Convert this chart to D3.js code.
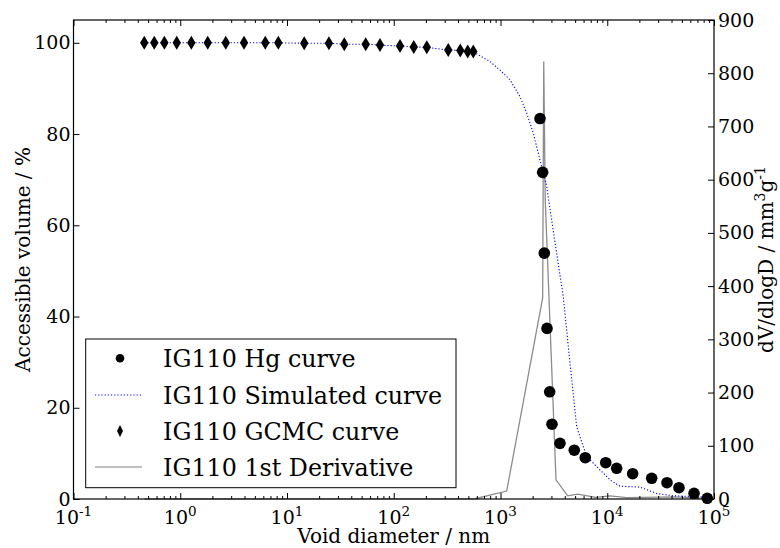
<!DOCTYPE html>
<html>
<head>
<meta charset="utf-8">
<script src="https://cdn.jsdelivr.net/npm/d3@7"></script>
<style>
  html, body { margin: 0; padding: 0; background: #fff; }
  svg text { font-family: "DejaVu Serif", serif; fill: #000; }
</style>
</head>
<body>
<svg id="chart" width="780" height="548"></svg>
<script>
// ---- data ----
const gcmcD = [0.460,0.571,0.710,0.927,1.27,1.81,2.67,3.96,6.26,8.29,14.5,24.7,34.4,54.6,74.3,114.5,154,204,324,420,493,556];
const gcmcV = [100,100,100,100,100,100,100,100,100,100,99.9,99.9,99.7,99.7,99.5,99.3,99.1,99.0,98.4,98.3,98.1,98.1];

const simD = [0.460,0.571,0.710,0.927,1.27,1.81,2.67,3.96,6.26,8.29,14.5,24.7,34.4,54.6,74.3,114.5,154,204,324,420,493,556,
              798,989,1227,1523,1759,2028,2344,2709,3125,3875,4477,5175,6425,7965,10620,13150,20270,29040,41590,73960,91830];
const simV = [100,100,100,100,100,100,100,100,100,100,99.9,99.9,99.7,99.7,99.5,99.3,99.1,99.0,98.4,98.3,98.1,98.0,
              95.9,94.0,91.9,88.2,84.6,80.2,74.3,68.5,58.7,44.3,29.8,15.8,9.3,7.1,4.2,2.8,2.6,1.2,0.7,0.5,0.15];

const hgD = [2344,2483,2572,2727,2890,3035,3607,4911,6223,9680,12250,17300,26070,36270,46990,65010,86500];
const hgV = [83.4,71.6,53.9,37.4,23.5,16.4,12.2,10.7,9.05,7.96,6.73,5.55,4.54,3.57,2.48,1.25,0.15];

const derivD = [0.460,577,1143,2483,2541,2624,3311,4260,5284,7792,10620,15210,41590,85480];
const derivV = [0,0.5,15,378,822,562,36,6,9,3,6,2.5,4,1];

const xMajor = [-1,0,1,2,3,4,5];
const yLeftTicks = [0,20,40,60,80,100];
const yRightTicks = [0,100,200,300,400,500,600,700,800,900];

const legendLabels = ["IG110 Hg curve","IG110 Simulated curve","IG110 GCMC curve","IG110 1st Derivative"];

// ---- layout ----
const L = 73.5, R = 714, T = 20, B = 499;
const svg = d3.select("#chart");

const x = d3.scaleLog().domain([0.1, 1e5]).range([L, R]);
const yL = d3.scaleLinear().domain([0, 105]).range([B, T]);
const yR = d3.scaleLinear().domain([0, 900]).range([B, T]);

const plot = svg.append("g");

// derivative line (grey, right axis)
plot.append("path")
  .datum(derivD.map((d,i)=>[d, derivV[i]]))
  .attr("fill","none").attr("stroke","#8c8c8c").attr("stroke-width",1.3)
  .attr("d", d3.line().x(d=>x(d[0])).y(d=>yR(d[1])));

// simulated line (blue dotted)
plot.append("path")
  .datum(simD.map((d,i)=>[d, simV[i]]))
  .attr("fill","none").attr("stroke","#0000ff").attr("stroke-width",1.1)
  .attr("stroke-dasharray","1.2,2")
  .attr("d", d3.line().x(d=>x(d[0])).y(d=>yL(d[1])));

// Hg circles
plot.selectAll("circle.hg").data(hgD.map((d,i)=>[d,hgV[i]])).enter()
  .append("circle").attr("class","hg")
  .attr("cx", d=>x(d[0])).attr("cy", d=>yL(d[1])).attr("r", 5.8).attr("fill","#000");

// GCMC thin diamonds
const dia = (w,h)=>`M0,${-h}L${w},0L0,${h}L${-w},0Z`;
plot.selectAll("path.gc").data(gcmcD.map((d,i)=>[d,gcmcV[i]])).enter()
  .append("path").attr("class","gc")
  .attr("d", dia(4.2,7))
  .attr("transform", d=>`translate(${x(d[0])},${yL(d[1])})`)
  .attr("fill","#000");

// ---- axes ----
const minors = [];
for (let k=-1;k<5;k++) for (let m=2;m<=9;m++) minors.push(m*Math.pow(10,k));
const majors = xMajor.map(k=>Math.pow(10,k));

const axG = svg.append("g");
axG.append("g").attr("transform",`translate(0,${B})`)
  .call(d3.axisBottom(x).tickValues(majors).tickSize(-6).tickFormat(""));
axG.append("g").attr("transform",`translate(0,${B})`)
  .call(d3.axisBottom(x).tickValues(minors).tickSize(-3).tickFormat(""));
axG.append("g").attr("transform",`translate(0,${T})`)
  .call(d3.axisTop(x).tickValues(majors).tickSize(-6).tickFormat(""));
axG.append("g").attr("transform",`translate(0,${T})`)
  .call(d3.axisTop(x).tickValues(minors).tickSize(-3).tickFormat(""));
axG.append("g").attr("transform",`translate(${L},0)`)
  .call(d3.axisLeft(yL).tickValues(yLeftTicks).tickSize(-6).tickPadding(3).tickFormat(d3.format("d")))
  .selectAll("text").attr("font-size",19).attr("font-family","DejaVu Serif");
axG.append("g").attr("transform",`translate(${R},0)`)
  .call(d3.axisRight(yR).tickValues(yRightTicks).tickSize(-6).tickPadding(4).tickFormat(d3.format("d")))
  .selectAll("text").attr("font-size",19).attr("font-family","DejaVu Serif");
axG.selectAll(".domain").remove();
axG.selectAll("line").attr("stroke","#000").attr("stroke-width",1);

// frame
svg.append("rect").attr("x",L).attr("y",T).attr("width",R-L).attr("height",B-T)
  .attr("fill","none").attr("stroke","#000").attr("stroke-width",1.2);

// x tick labels with superscripts
xMajor.forEach(k=>{
  const t = svg.append("text").attr("x", x(Math.pow(10,k))).attr("y", 524)
    .attr("text-anchor","middle").attr("font-size",19);
  t.append("tspan").text("10");
  t.append("tspan").attr("dy",-8).attr("font-size",13.5).text(k<0 ? "-" + (-k) : String(k));
});

// axis titles
svg.append("text").attr("x",(L+R)/2).attr("y",543).attr("text-anchor","middle")
  .attr("font-size",20).text("Void diameter / nm");
svg.append("text").attr("transform",`translate(30,${(T+B)/2}) rotate(-90)`)
  .attr("text-anchor","middle").attr("font-size",20).text("Accessible volume / %");
const rt = svg.append("text").attr("transform",`translate(773,${(T+B)/2}) rotate(-90)`)
  .attr("text-anchor","middle").attr("font-size",20);
rt.append("tspan").text("dV/dlogD / mm");
rt.append("tspan").attr("dy",-8).attr("font-size",14).text("3");
rt.append("tspan").attr("dy",8).text("g");
rt.append("tspan").attr("dy",-8).attr("font-size",14).text("-1");

// ---- legend ----
const lg = svg.append("g");
lg.append("rect").attr("x",85.7).attr("y",339).attr("width",370.3).attr("height",148.7)
  .attr("fill","#fff").attr("stroke","#000").attr("stroke-width",1);
const rows = [358.3, 395, 431, 467];
lg.append("circle").attr("cx",120).attr("cy",rows[0]).attr("r",4.3).attr("fill","#000");
lg.append("line").attr("x1",95).attr("x2",142).attr("y1",rows[1]).attr("y2",rows[1])
  .attr("stroke","#0000ff").attr("stroke-width",1.1).attr("stroke-dasharray","1.2,2");
lg.append("path").attr("d",dia(3,6)).attr("transform",`translate(120,${rows[2]})`).attr("fill","#000");
lg.append("line").attr("x1",95).attr("x2",142).attr("y1",rows[3]).attr("y2",rows[3])
  .attr("stroke","#aaaaaa").attr("stroke-width",1.3);
legendLabels.forEach((s,i)=>{
  lg.append("text").attr("x",163).attr("y",rows[i]+8.5).attr("font-size",23.8).text(s);
});
</script>
</body>
</html>
